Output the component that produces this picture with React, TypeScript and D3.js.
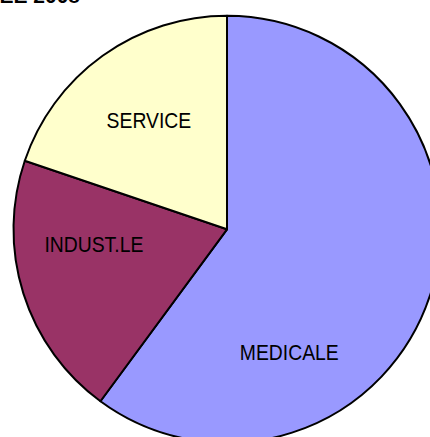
import React, { useEffect, useRef } from 'react'
import * as d3 from 'd3'

// slices, clockwise from 12 o'clock
const categories = ['MEDICALE', 'INDUST.LE', 'SERVICE']
const shares = [60.1, 20.1, 19.8]
const colors = ['#9999FF', '#993366', '#FFFFCC']
const title = 'ANNEE 2008'

export default function App(): JSX.Element {
  const svgRef = useRef<SVGSVGElement>(null)
  const width = 430
  const height = 437
  const cx = 227
  const cy = 229.3
  const radius = 213.5

  useEffect(() => {
    const svg = d3.select(svgRef.current)
    svg.selectAll('*').remove()

    const data = categories.map((name, i) => ({ name, value: shares[i], color: colors[i] }))
    const pie = d3
      .pie<any>()
      .sort(null)
      .value(d => d.value)
    const arcs = pie(data)
    const arc = d3.arc<any>().innerRadius(0).outerRadius(radius)

    const g = svg.append('g').attr('transform', `translate(${cx},${cy})`)

    g.selectAll('path')
      .data(arcs)
      .enter()
      .append('path')
      .attr('d', arc)
      .attr('fill', d => d.data.color)
      .attr('stroke', '#000')
      .attr('stroke-width', 2)
      .attr('stroke-linejoin', 'round')

    // excel-ish label placement: angle shift (deg) and distance from centre
    const labelTweak: Record<string, [number, number]> = {
      MEDICALE: [45, 138],
      'INDUST.LE': [11, 134],
      SERVICE: [0, 134]
    }

    g.selectAll('text.lbl')
      .data(arcs)
      .enter()
      .append('text')
      .attr('class', 'lbl')
      .attr('transform', d => {
        const [shift, dist] = labelTweak[d.data.name]
        const a = (d.startAngle + d.endAngle) / 2 + (shift * Math.PI) / 180
        const x = Math.sin(a) * dist
        const y = -Math.cos(a) * dist
        return `translate(${x},${y}) scale(0.88,1)`
      })
      .attr('text-anchor', 'middle')
      .attr('dy', '0.36em')
      .attr('font-family', 'Liberation Sans, Arial, sans-serif')
      .attr('font-size', 22)
      .attr('fill', '#000')
      .text(d => d.data.name)

    svg
      .append('text')
      .attr('x', 80)
      .attr('y', 3)
      .attr('text-anchor', 'end')
      .attr('font-family', 'Liberation Sans, Arial, sans-serif')
      .attr('font-size', 21)
      .attr('font-weight', 'bold')
      .attr('fill', '#000')
      .text(title)
  }, [])

  return (
    <svg
      ref={svgRef}
      width={width}
      height={height}
      style={{ position: 'fixed', left: 0, top: 0, display: 'block', background: '#fff' }}
    ></svg>
  )
}
